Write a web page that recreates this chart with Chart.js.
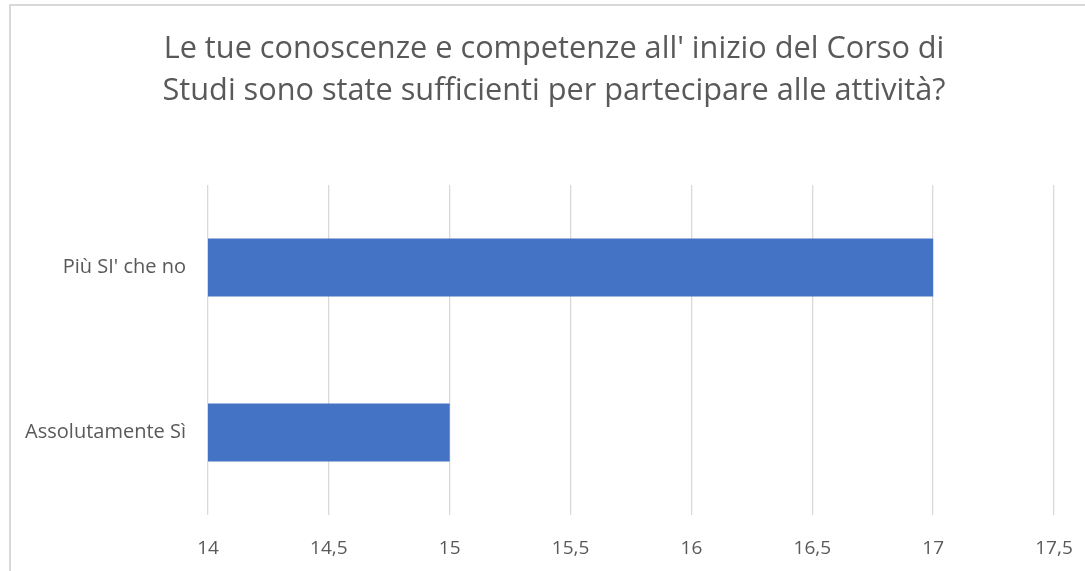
<!DOCTYPE html>
<html><head><meta charset="utf-8">
<script src="https://cdn.jsdelivr.net/npm/chart.js@4"></script>
<style>
html,body{margin:0;padding:0;background:#fff;overflow:hidden;}
#wrap{position:absolute;left:0;top:0;width:1085px;height:571px;overflow:hidden;}
#frame{position:absolute;left:9px;top:4px;width:1100px;height:620px;border:2px solid #d9d9d9;box-sizing:border-box;pointer-events:none;}
canvas{position:absolute;left:0;top:0;}
</style></head>
<body>
<div id="wrap"><canvas id="c" width="1085" height="571"></canvas><div id="frame"></div></div>
<script>
const titleLines = ["Le tue conoscenze e competenze all' inizio del Corso di", "Studi sono state sufficienti per partecipare alle attività?"];
const categories = ["Più SI' che no", "Assolutamente Sì"];
const values = [17, 15];
const tickValues = [14, 14.5, 15, 15.5, 16, 16.5, 17, 17.5];
const tickLabels = ["14", "14,5", "15", "15,5", "16", "16,5", "17", "17,5"];

const FONT = "'Open Sans', 'DejaVu Sans', sans-serif";

const titlePlugin = {
  id: 'centeredTitle',
  afterDraw(chart) {
    const ctx = chart.ctx;
    ctx.save();
    ctx.font = "normal 30.7px " + FONT;
    ctx.fillStyle = '#595959';
    ctx.textAlign = 'center';
    ctx.textBaseline = 'alphabetic';
    const cx = 554;
    titleLines.forEach((line, i) => ctx.fillText(line, cx, 58 + i * 41.5));
    ctx.restore();
  }
};

new Chart(document.getElementById('c'), {
  type: 'bar',
  data: {
    labels: categories,
    datasets: [{ data: values, backgroundColor: '#4472C4', borderWidth: 0, categoryPercentage: 1, barPercentage: 0.352 }]
  },
  plugins: [titlePlugin],
  options: {
    indexAxis: 'y',
    responsive: false,
    animation: false,
    layout: { padding: { top: 185, right: 31, left: 0, bottom: 0 } },
    plugins: {
      legend: { display: false },
      tooltip: { enabled: false },
      title: { display: false }
    },
    scales: {
      x: {
        min: 14, max: 17.5,
        afterBuildTicks: (axis) => { axis.ticks = tickValues.map(v => ({ value: v })); },
        afterFit: (axis) => { axis.height = 56; axis.paddingLeft = 0; axis.paddingRight = 0; },
        ticks: {
          callback: (v) => { const i = tickValues.indexOf(v); return i >= 0 ? tickLabels[i] : ''; },
          color: '#595959', font: { family: FONT, size: 19 }, padding: 22, maxRotation: 0
        },
        grid: { color: '#d9d9d9', lineWidth: 1.3, drawTicks: false },
        border: { display: false }
      },
      y: {
        afterFit: (axis) => { axis.width = 208; axis.paddingTop = 0; axis.paddingBottom = 0; },
        ticks: { color: '#595959', font: { family: FONT, size: 20 }, padding: 22 },
        grid: { display: false, drawTicks: false },
        border: { display: false }
      }
    }
  }
});
</script>
</body></html>
